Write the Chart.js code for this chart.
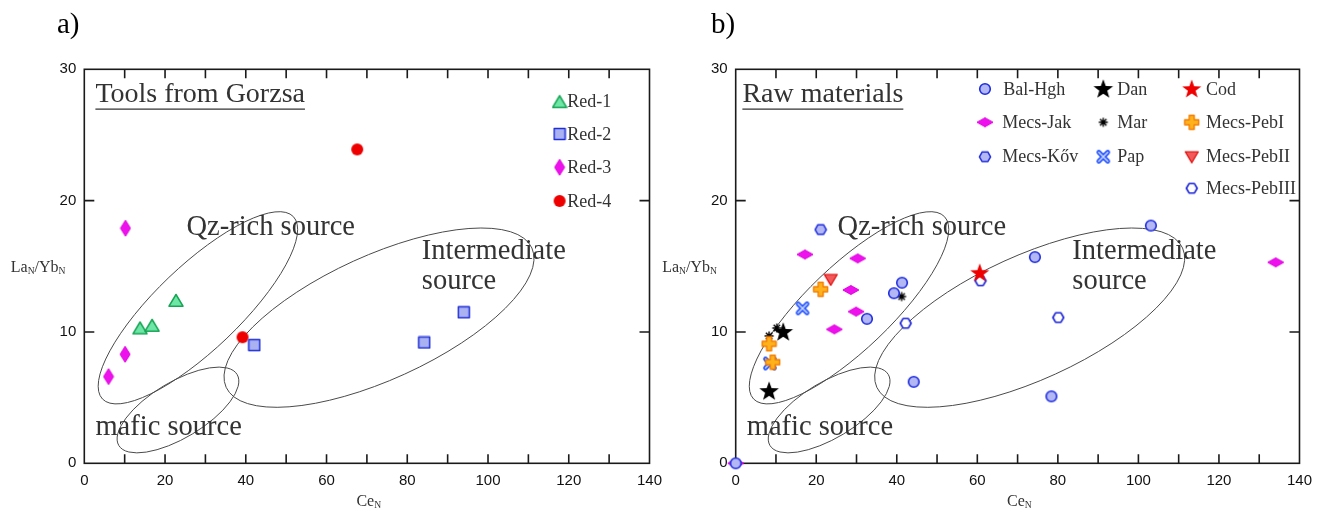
<!DOCTYPE html>
<html>
<head>
    <title>LaN/YbN vs CeN</title>
    <script src="https://cdn.jsdelivr.net/npm/chart.js"></script>
    <style>
        body { margin: 0; background: #fff; }
        #wrap { position: relative; width: 1321px; height: 512px; }
        canvas { position: absolute; top: 0; }
    </style>
</head>
<body>
    <div id="wrap">
        <canvas id="chartA" width="680" height="512" style="left:0"></canvas>
        <canvas id="chartB" width="669" height="512" style="left:652px"></canvas>
    </div>

    <script>
        // --- data: a) tools from Gorzsa ---
        const red1X = [22.7, 13.8, 16.8];
        const red1Y = [12.4, 10.3, 10.5];
        const red2X = [42.1, 84.2, 94.0];
        const red2Y = [9.0, 9.2, 11.5];
        const red3X = [10.2, 10.1, 6.0];
        const red3Y = [17.9, 8.3, 6.6];
        const red4X = [67.6, 39.2];
        const red4Y = [23.9, 9.6];

        // --- data: b) raw materials ---
        const balX = [0, 41.3, 39.3, 32.6, 44.2, 78.4, 74.3, 103.1];
        const balY = [0, 13.75, 12.95, 11.0, 6.2, 5.1, 15.7, 18.1];
        const danX = [11.8, 8.3];
        const danY = [10.0, 5.5];
        const codX = [60.6];
        const codY = [14.5];
        const jakX = [0, 17.2, 30.3, 28.6, 29.9, 24.5, 134.1];
        const jakY = [0, 15.9, 15.6, 13.2, 11.55, 10.2, 15.3];
        const marX = [10.2, 8.3, 41.2];
        const marY = [10.3, 9.7, 12.7];
        const peb1X = [21.1, 8.3, 9.2];
        const peb1Y = [13.25, 9.1, 7.7];
        const kovX = [21.1];
        const kovY = [17.8];
        const papX = [16.6, 8.5];
        const papY = [11.8, 7.6];
        const peb2X = [23.6];
        const peb2Y = [14.0];
        const peb3X = [60.8, 42.2, 80.1];
        const peb3Y = [13.9, 10.66, 11.1];

        const xTicks = [0, 20, 40, 60, 80, 100, 120, 140];
        const yTicks = [0, 10, 20, 30];

        const SERIF = '"Liberation Serif", "Times New Roman", serif';
        const SANS = '"Liberation Sans", Arial, sans-serif';

        // marker images
        function marker(w, h, draw) {
            const c = document.createElement('canvas');
            c.width = w; c.height = h;
            draw(c.getContext('2d'), w / 2, h / 2);
            return c;
        }
        function poly(g, pts, fill, stroke, lw) {
            g.beginPath();
            pts.forEach((p, i) => i ? g.lineTo(p[0], p[1]) : g.moveTo(p[0], p[1]));
            g.closePath();
            if (fill) { g.fillStyle = fill; g.fill(); }
            if (stroke) { g.lineWidth = lw; g.strokeStyle = stroke; g.lineJoin = 'round'; g.stroke(); }
        }
        function star(cx, cy, ro, ri) {
            const pts = [];
            for (let i = 0; i < 10; i++) {
                const r = i % 2 ? ri : ro, a = -Math.PI / 2 + i * Math.PI / 5;
                pts.push([cx + r * Math.cos(a), cy + r * Math.sin(a)]);
            }
            return pts;
        }
        function hex(cx, cy, r) {
            const pts = [];
            for (let i = 0; i < 6; i++) {
                const a = i * Math.PI / 3;
                pts.push([cx + r * Math.cos(a), cy + r * Math.sin(a)]);
            }
            return pts;
        }

        const mk = {
            triGreen: marker(16, 15, g => poly(g, [[8, 1.5], [15, 13.2], [1, 13.2]], '#6ee6a6', '#16a455', 1.5)),
            sqBlue: marker(14, 14, g => poly(g, [[1.5, 1.5], [12.5, 1.5], [12.5, 12.5], [1.5, 12.5]], '#aab2f2', '#1f2fd6', 1.5)),
            diaTall: marker(12, 18, g => poly(g, [[6, 1], [11, 9], [6, 17], [1, 9]], '#ee11ee', '#dd00dd', 1)),
            dotRed: marker(14, 14, g => { g.beginPath(); g.arc(7, 7, 6, 0, Math.PI * 2); g.fillStyle = '#ee0000'; g.fill(); }),
            dotBlue: marker(14, 14, g => { g.beginPath(); g.arc(7, 7, 5.3, 0, Math.PI * 2); g.fillStyle = '#b3b7f3'; g.fill(); g.lineWidth = 1.6; g.strokeStyle = '#1e2de0'; g.stroke(); }),
            hexBlue: marker(14, 14, g => poly(g, hex(7, 7, 5.6), '#b3b7f3', '#1e2de0', 1.5)),
            hexOpen: marker(14, 14, g => poly(g, hex(7, 7, 5.4), '#ffffff', '#1a22d8', 1.6)),
            diaWide: marker(18, 12, g => poly(g, [[1, 6], [9, 1.5], [17, 6], [9, 10.5]], '#ee11ee', '#dd00dd', 1)),
            starBlack: marker(22, 22, g => poly(g, star(11, 11.5, 10.3, 4.2), '#000', null, 0)),
            starRed: marker(22, 22, g => poly(g, star(11, 11.5, 10, 4.1), '#ee0000', null, 0)),
            asterisk: marker(12, 12, g => {
                g.beginPath();
                for (let i = 0; i < 4; i++) {
                    const a = i * Math.PI / 4;
                    g.moveTo(6 - 4.5 * Math.cos(a), 6 - 4.5 * Math.sin(a));
                    g.lineTo(6 + 4.5 * Math.cos(a), 6 + 4.5 * Math.sin(a));
                }
                g.lineWidth = 1.4; g.strokeStyle = '#000'; g.stroke();
            }),
            plusOrange: marker(17, 17, g => poly(g, [[6, 1.5], [11, 1.5], [11, 6], [15.5, 6], [15.5, 11], [11, 11], [11, 15.5], [6, 15.5], [6, 11], [1.5, 11], [1.5, 6], [6, 6]], '#ffb21c', '#f57d00', 1.4)),
            xBlue: marker(16, 16, g => {
                g.lineCap = 'round';
                g.beginPath(); g.moveTo(3.5, 3.5); g.lineTo(12.5, 12.5); g.moveTo(12.5, 3.5); g.lineTo(3.5, 12.5);
                g.lineWidth = 4.6; g.strokeStyle = '#1f4fff'; g.stroke();
                g.lineWidth = 1.5; g.strokeStyle = '#cfdcff'; g.stroke();
            }),
            triDown: marker(16, 14, g => poly(g, [[1.5, 2], [14.5, 2], [8, 13]], '#f25a5a', '#e00000', 1.2))
        };

        function pts(xs, ys) { return xs.map((x, i) => ({ x: x, y: ys[i] })); }

        // ellipses: centre in data units, semi axes in px, rotation in degrees
        const ellipses = [
            { cx: 28.14, cy: 11.84, rx: 132, ry: 42, rot: -43.7 },
            { cx: 23.2, cy: 4.06, rx: 69, ry: 28, rot: -31 },
            { cx: 73.0, cy: 11.09, rx: 168, ry: 62, rot: -24.5 }
        ];
        // region labels, x = left edge, y = baseline (data units)
        const regionLabels = [
            { text: 'Qz-rich source', x: 25.3, y: 17.4 },
            { text: 'Intermediate', x: 83.6, y: 15.56 },
            { text: 'source', x: 83.6, y: 13.25 },
            { text: 'mafic source', x: 2.75, y: 2.15 }
        ];

        function subText(ctx, parts, x, y, size) {
            parts.forEach(p => {
                const sub = p[1];
                ctx.font = (sub ? size * 0.6 : size) + 'px ' + SERIF;
                ctx.fillText(p[0], x, sub ? y + 2 : y);
                x += ctx.measureText(p[0]).width;
            });
        }

        const decor = {
            id: 'decor',
            beforeDatasetsDraw(chart, args, o) {
                const ctx = chart.ctx, xs = chart.scales.x, ys = chart.scales.y, a = chart.chartArea;
                ctx.save();
                // ellipses
                ctx.strokeStyle = '#4a4a4a';
                ctx.lineWidth = 1;
                ellipses.forEach(e => {
                    ctx.beginPath();
                    ctx.ellipse(xs.getPixelForValue(e.cx), ys.getPixelForValue(e.cy), e.rx, e.ry, e.rot * Math.PI / 180, 0, Math.PI * 2);
                    ctx.stroke();
                });
                // frame + inner ticks
                ctx.strokeStyle = '#1a1a1a';
                ctx.lineWidth = 1.6;
                ctx.beginPath();
                xs.ticks.forEach(t => {
                    if (t.value <= xs.min || t.value >= xs.max) return;
                    const p = xs.getPixelForValue(t.value);
                    ctx.moveTo(p, a.bottom); ctx.lineTo(p, a.bottom - 9);
                    ctx.moveTo(p, a.top); ctx.lineTo(p, a.top + 9);
                });
                ys.ticks.forEach(t => {
                    if (t.value <= ys.min || t.value >= ys.max) return;
                    const p = ys.getPixelForValue(t.value);
                    ctx.moveTo(a.left, p); ctx.lineTo(a.left + 10, p);
                    ctx.moveTo(a.right, p); ctx.lineTo(a.right - 10, p);
                });
                ctx.stroke();
                ctx.strokeRect(a.left, a.top, a.width, a.height);

                // region labels
                ctx.fillStyle = '#333';
                ctx.font = '28.5px ' + SERIF;
                ctx.textBaseline = 'alphabetic';
                regionLabels.forEach(r => ctx.fillText(r.text, xs.getPixelForValue(r.x), ys.getPixelForValue(r.y)));

                // panel title, underlined
                ctx.font = '28px ' + SERIF;
                const tx = xs.getPixelForValue(o.titleX), ty = ys.getPixelForValue(o.titleY);
                ctx.fillText(o.title, tx, ty);
                const tw = ctx.measureText(o.title).width;
                ctx.lineWidth = 1.2;
                ctx.strokeStyle = '#333';
                ctx.beginPath(); ctx.moveTo(tx, ty + 7.5); ctx.lineTo(tx + tw, ty + 7.5); ctx.stroke();

                // axis titles
                ctx.fillStyle = '#333';
                subText(ctx, [['La', false], ['N', true], ['/Yb', false], ['N', true]], a.left - 73.5, 272, 16);
                subText(ctx, [['Ce', false], ['N', true]], (a.left + a.right) / 2 - 10.5, 506, 16);

                // panel tag
                ctx.fillStyle = '#000';
                ctx.font = '29px ' + SERIF;
                ctx.fillText(o.tag, o.tagX, 33);
                ctx.restore();
            },
            afterDatasetsDraw(chart, args, o) {
                const ctx = chart.ctx, a = chart.chartArea;
                ctx.save();
                ctx.fillStyle = '#333';
                ctx.font = '18px ' + SERIF;
                ctx.textBaseline = 'middle';
                o.legend.forEach(l => {
                    const m = l.marker;
                    ctx.drawImage(m, a.left + l.mx - m.width / 2, a.top + l.y - m.height / 2);
                    ctx.fillText(l.label, a.left + l.tx, a.top + l.y + 1);
                });
                ctx.restore();
            }
        };

        function makeChart(id, datasets, opts) {
            return new Chart(document.getElementById(id), {
                type: 'scatter',
                data: { datasets: datasets },
                options: {
                    responsive: false,
                    animation: false,
                    events: [],
                    layout: { padding: { left: 0, top: 69.3, right: opts.padRight, bottom: 0 } },
                    scales: {
                        x: {
                            type: 'linear', min: 0, max: 140,
                            afterBuildTicks: s => { s.ticks = [];
                                for (let v = 0; v <= 140; v += 10) s.ticks.push({ value: v }); },
                            ticks: {
                                callback: v => xTicks.includes(v) ? String(v) : '',
                                font: { family: SANS, size: 15 }, color: '#111', padding: 9, maxRotation: 0, autoSkip: false
                            },
                            grid: { display: false, drawTicks: false },
                            border: { display: false },
                            afterFit: s => { s.height = 48.7; }
                        },
                        y: {
                            type: 'linear', min: 0, max: 30,
                            afterBuildTicks: s => { s.ticks = yTicks.map(v => ({ value: v })); },
                            ticks: { font: { family: SANS, size: 15 }, color: '#111', padding: 8 },
                            grid: { display: false, drawTicks: false },
                            border: { display: false },
                            afterFit: s => { s.width = opts.yWidth; }
                        }
                    },
                    plugins: {
                        legend: { display: false },
                        tooltip: { enabled: false },
                        decor: opts
                    }
                },
                plugins: [decor]
            });
        }

        function ds(label, xs, ys, img, order) {
            return { label: label, data: pts(xs, ys), pointStyle: img, pointRadius: 6, order: order, clip: false };
        }

        makeChart('chartA', [
            ds('Red-1', red1X, red1Y, mk.triGreen, 1),
            ds('Red-2', red2X, red2Y, mk.sqBlue, 2),
            ds('Red-3', red3X, red3Y, mk.diaTall, 3),
            ds('Red-4', red4X, red4Y, mk.dotRed, 4)
        ], {
            padRight: 30.5, yWidth: 84.3, tag: 'a)', tagX: 57,
            title: 'Tools from Gorzsa', titleX: 2.75, titleY: 27.54,
            legend: [
                { label: 'Red-1', marker: mk.triGreen, mx: 475.3, tx: 483, y: 32.4 },
                { label: 'Red-2', marker: mk.sqBlue, mx: 475.3, tx: 483, y: 64.7 },
                { label: 'Red-3', marker: mk.diaTall, mx: 475.3, tx: 483, y: 98 },
                { label: 'Red-4', marker: mk.dotRed, mx: 475.3, tx: 483, y: 131.7 }
            ]
        });

        makeChart('chartB', [
            ds('Bal-Hgh', balX, balY, mk.dotBlue, 1),
            ds('Mecs-PebI', peb1X, peb1Y, mk.plusOrange, 2),
            ds('Dan', danX, danY, mk.starBlack, 3),
            ds('Mar', marX, marY, mk.asterisk, 4),
            ds('Cod', codX, codY, mk.starRed, 5),
            ds('Mecs-Jak', jakX, jakY, mk.diaWide, 6),
            ds('Mecs-Kőv', kovX, kovY, mk.hexBlue, 7),
            ds('Pap', papX, papY, mk.xBlue, 8),
            ds('Mecs-PebII', peb2X, peb2Y, mk.triDown, 9),
            ds('Mecs-PebIII', peb3X, peb3Y, mk.hexOpen, 10)
        ], {
            padRight: 21, yWidth: 83.7, tag: 'b)', tagX: 59,
            title: 'Raw materials', titleX: 1.66, titleY: 27.54,
            legend: [
                { label: 'Bal-Hgh', marker: mk.dotBlue, mx: 249.3, tx: 267.5, y: 19.7 },
                { label: 'Mecs-Jak', marker: mk.diaWide, mx: 249.3, tx: 266.5, y: 53 },
                { label: 'Mecs-K\u0151v', marker: mk.hexBlue, mx: 249.3, tx: 266.5, y: 87.4 },
                { label: 'Dan', marker: mk.starBlack, mx: 367.6, tx: 381.6, y: 19.7 },
                { label: 'Mar', marker: mk.asterisk, mx: 367.6, tx: 381.6, y: 53 },
                { label: 'Pap', marker: mk.xBlue, mx: 367.6, tx: 381.6, y: 87.4 },
                { label: 'Cod', marker: mk.starRed, mx: 456, tx: 470.3, y: 19.7 },
                { label: 'Mecs-PebI', marker: mk.plusOrange, mx: 456, tx: 470.3, y: 53 },
                { label: 'Mecs-PebII', marker: mk.triDown, mx: 456, tx: 470.3, y: 87.4 },
                { label: 'Mecs-PebIII', marker: mk.hexOpen, mx: 456, tx: 470.3, y: 119 }
            ]
        });
    </script>
</body>
</html>
